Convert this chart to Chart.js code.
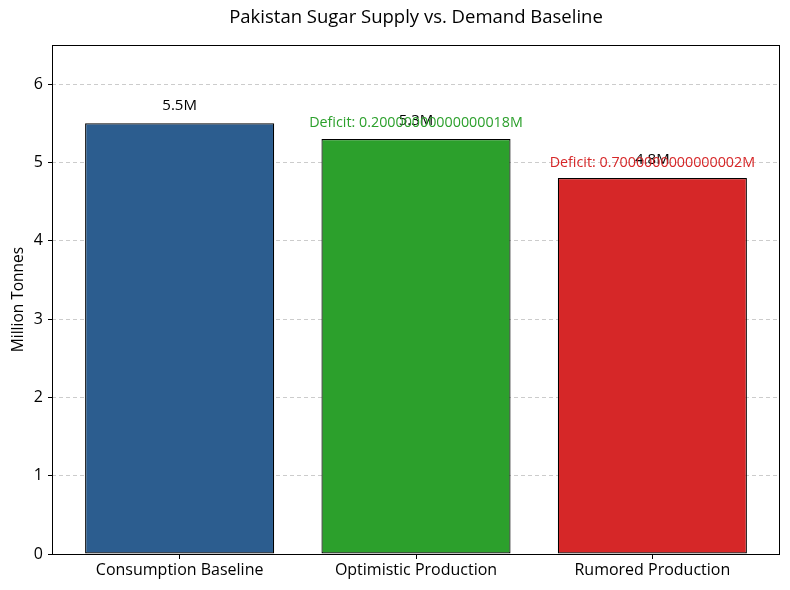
<!DOCTYPE html>
<html><head><meta charset="utf-8">
<script src="https://cdn.jsdelivr.net/npm/chart.js@4"></script>
<style>html,body{margin:0;padding:0;background:#fff}</style>
</head><body>
<canvas id="c" width="790" height="590"></canvas>
<script>
const categories = ["Consumption Baseline", "Optimistic Production", "Rumored Production"];
const values = [5.5, 5.3, 4.8];
const colors = ["#2c5d8f", "#2ca02c", "#d62728"];
const deficitLabels = ["", "Deficit: 0.20000000000000018M", "Deficit: 0.7000000000000002M"];
const yTicks = [0, 1, 2, 3, 4, 5, 6];
const FONT = "'Open Sans', sans-serif";

const overlay = {
  id: 'overlay',
  afterDatasetsDraw(chart) {
    const {ctx, chartArea: a, scales: {x, y}} = chart;
    ctx.save();
    ctx.strokeStyle = '#000'; ctx.lineWidth = 1;
    ctx.strokeRect(Math.round(a.left) + 0.5, Math.round(a.top) + 0.5,
                   Math.round(a.right - a.left) - 1, Math.round(a.bottom - a.top));
    ctx.textAlign = 'center';
    values.forEach((v, i) => {
      const px = x.getPixelForValue(i);
      ctx.fillStyle = '#000';
      ctx.font = '15px ' + FONT;
      ctx.textBaseline = 'middle';
      ctx.fillText(v + 'M', px, y.getPixelForValue(v + 0.23));
      if (deficitLabels[i]) {
        ctx.fillStyle = colors[i];
        ctx.font = '14.3px ' + FONT;
        ctx.textBaseline = 'middle';
        ctx.fillText(deficitLabels[i], px, y.getPixelForValue(v + 0.2));
      }
    });
    ctx.fillStyle = '#000';
    ctx.font = '18.5px ' + FONT;
    ctx.textBaseline = 'middle';
    ctx.fillText('Pakistan Sugar Supply vs. Demand Baseline', (a.left + a.right) / 2, 18);
    ctx.restore();
  }
};

new Chart(document.getElementById('c'), {
  type: 'bar',
  data: {
    datasets: [{
      data: values.map((v, i) => ({x: i, y: v})),
      backgroundColor: colors,
      borderColor: '#000',
      borderWidth: 1.2,
      borderSkipped: false,
      categoryPercentage: 1,
      barPercentage: 0.8
    }]
  },
  options: {
    responsive: false,
    animation: false,
    devicePixelRatio: 1,
    layout: {padding: {top: 45, right: 10, left: 0, bottom: 0}},
    plugins: {legend: {display: false}, tooltip: {enabled: false}, title: {display: false}},
    scales: {
      x: {
        type: 'linear', min: -0.54, max: 2.54, offset: false,
        afterBuildTicks: s => { s.ticks = categories.map((c, i) => ({value: i})); },
        afterFit: s => { s.height = 36; },
        ticks: {callback: v => categories[v], color: '#000', font: {size: 16, family: FONT}, padding: 2, maxRotation: 0, autoSkip: false},
        grid: {drawOnChartArea: false, offset: false, tickColor: '#000', tickLength: 5, tickWidth: 1},
        border: {display: false}
      },
      y: {
        min: 0, max: 6.5,
        afterBuildTicks: s => { s.ticks = yTicks.map(v => ({value: v})); },
        afterFit: s => { s.width = 52; },
        ticks: {color: '#000', font: {size: 16, family: FONT}, padding: 5},
        grid: {color: c => c.tick && c.tick.value === 0 ? 'rgba(0,0,0,0)' : '#cccccc', tickColor: '#000', tickLength: 4, tickBorderDash: []},
        border: {display: false, dash: [4, 3]},
        title: {display: true, text: 'Million Tonnes', color: '#000', font: {size: 15.5, family: FONT}, padding: {top: 9, bottom: 0}}
      }
    }
  },
  plugins: [overlay]
});
</script>
</body></html>
